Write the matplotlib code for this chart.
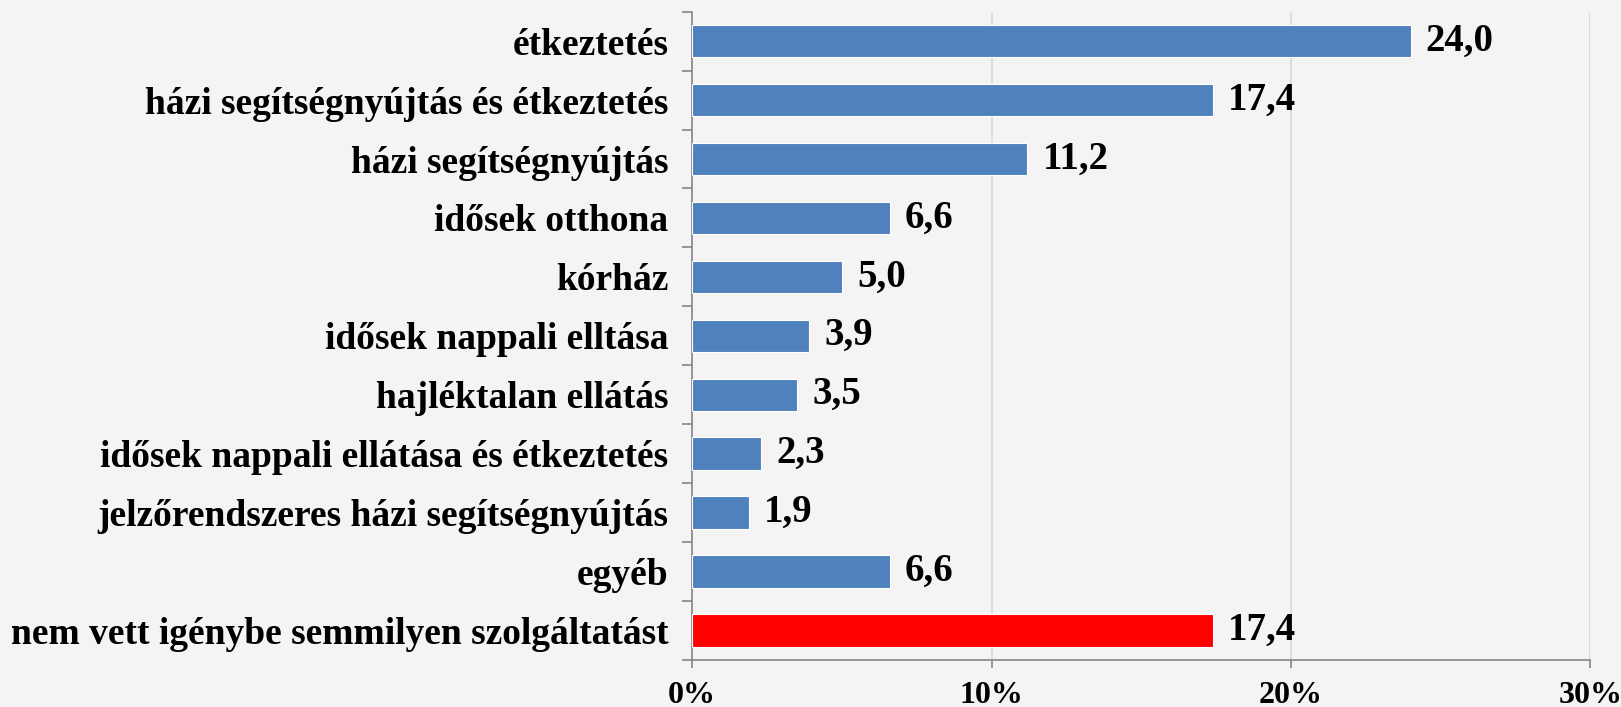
import matplotlib.pyplot as plt
import numpy as np

# Data
categories = [
    "étkeztetés",
    "házi segítségnyújtás és étkeztetés",
    "házi segítségnyújtás",
    "idősek otthona",
    "kórház",
    "idősek nappali elltása",
    "hajléktalan ellátás",
    "idősek nappali ellátása és étkeztetés",
    "jelzőrendszeres házi segítségnyújtás",
    "egyéb",
    "nem vett igénybe semmilyen szolgáltatást",
]
values = [24.0, 17.4, 11.2, 6.6, 5.0, 3.9, 3.5, 2.3, 1.9, 6.6, 17.4]
colors = ["#4f81bd"] * 10 + ["#ff0000"]
x_ticks = [0, 10, 20, 30]
x_tick_labels = ["0%", "10%", "20%", "30%"]

bg = "#f4f4f4"
plt.rcParams['font.family'] = ['Liberation Serif', 'DejaVu Serif']
plt.rcParams['font.weight'] = 'bold'

fig = plt.figure(figsize=(16.21, 7.07), dpi=100, facecolor=bg)
ax = fig.add_axes([0.427, 0.0665, 0.554, 0.917], facecolor=bg)

y = np.arange(len(categories))
ax.barh(y, values, height=0.55, color=colors, edgecolor="white", linewidth=0.8, zorder=3)

for yi, v in zip(y, values):
    ax.annotate(f"{v:.1f}".replace(".", ","), (v, yi), xytext=(11, 0),
                textcoords="offset points", va="center", ha="left",
                fontsize=28, fontweight="bold")

ax.set_xlim(0, 30)
ax.set_ylim(len(categories) - 0.5, -0.5)
ax.set_xticks(x_ticks)
ax.set_xticklabels(x_tick_labels, fontsize=23, fontweight="bold")
ax.set_yticks(y)
ax.set_yticklabels(categories, fontsize=27, fontweight="bold")
ax.tick_params(axis="y", length=0, pad=17)
ax.set_yticks(np.arange(len(categories) + 1) - 0.5, minor=True)
ax.tick_params(axis="y", which="minor", length=7, color="#868686", width=1.2)
ax.tick_params(axis="x", length=6, color="#868686", width=1.2, pad=9)

ax.grid(axis="x", color="#d9d9d9", linewidth=1.2, zorder=0)
for s in ["top", "right"]:
    ax.spines[s].set_visible(False)
for s in ["left", "bottom"]:
    ax.spines[s].set_color("#868686")
    ax.spines[s].set_linewidth(1.2)

fig.savefig("out.png", dpi=100, facecolor=bg)
